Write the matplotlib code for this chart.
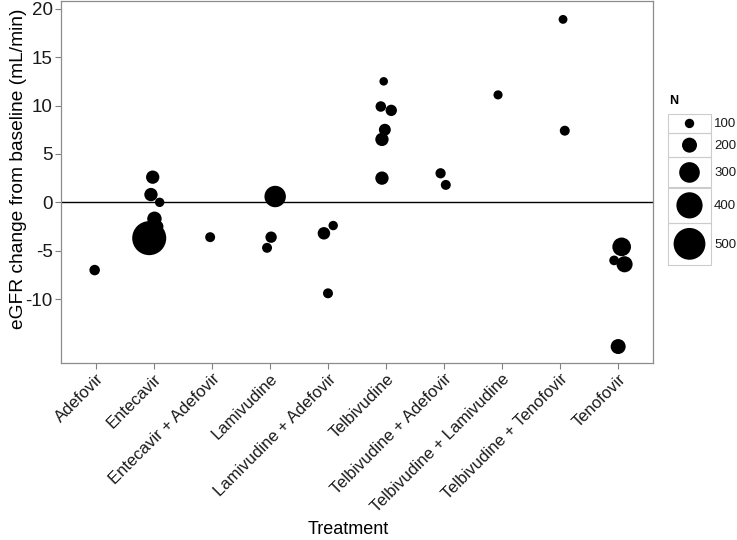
import numpy as np
import matplotlib
matplotlib.use('Agg')
import matplotlib.pyplot as plt
from matplotlib.patches import Rectangle

plt.rcParams['font.family'] = ['Liberation Sans', 'DejaVu Sans']

# categories
treatments = ['Adefovir', 'Entecavir', 'Entecavir + Adefovir', 'Lamivudine',
              'Lamivudine + Adefovir', 'Telbivudine', 'Telbivudine + Adefovir',
              'Telbivudine + Lamivudine', 'Telbivudine + Tenofovir', 'Tenofovir']

# one row per study arm: treatment index, eGFR change, sample size N, jitter
arm_group = [0, 1, 1, 1, 1, 1, 1, 2, 3, 3, 3, 4, 4, 4,
             5, 5, 5, 5, 5, 5, 6, 6, 7, 8, 8, 9, 9, 9, 9]
arm_egfr = [-7.0, 2.6, 0.8, 0.0, -1.7, -2.5, -3.7, -3.6, 0.6, -3.6, -4.7,
            -3.2, -2.4, -9.4, 12.5, 9.9, 9.5, 7.5, 6.5, 2.5, 3.0, 1.8,
            11.1, 18.9, 7.4, -4.6, -6.0, -6.4, -14.9]
arm_n = [120, 170, 170, 100, 190, 150, 540, 110, 315, 135, 110,
         155, 100, 110, 85, 120, 135, 145, 170, 170, 115, 110,
         95, 90, 110, 265, 105, 220, 200]
arm_jitter = [-0.02, -0.02, -0.05, 0.10, 0.01, 0.06, -0.08, -0.03, 0.09, 0.02, -0.05,
              -0.07, 0.09, 0.00, -0.04, -0.09, 0.09, -0.02, -0.07, -0.07, -0.06, 0.03,
              -0.07, 0.05, 0.08, 0.06, -0.07, 0.11, 0.00]

legend_n = [100, 200, 300, 400, 500]
yticks = [-10, -5, 0, 5, 10, 15, 20]

W, H, DPI = 737, 540, 100
PX = 72.0 / DPI


def size_px(n):
    # marker radius in pixels for a given N
    return 1.9 + 2.8 * np.asarray(n) / 100.0


def size_s(n):
    return (2 * size_px(n) * PX) ** 2


fig = plt.figure(figsize=(W / DPI, H / DPI), dpi=DPI)
ax = fig.add_axes([61 / W, 1 - 363 / H, (653 - 61) / W, (363 - 1) / H])

x = np.array(arm_group) + np.array(arm_jitter)
ax.scatter(x, arm_egfr, s=size_s(arm_n), c='black', edgecolors='none', zorder=3)
ax.axhline(0, color='black', lw=1.0, zorder=2)

ax.set_xlim(-0.6, len(treatments) - 0.4)
ax.set_ylim(-16.6, 20.8)
ax.set_yticks(yticks)
ax.set_yticklabels([str(v) for v in yticks], fontsize=13.5, color='#1a1a1a')
ax.set_xticks(range(len(treatments)))
ax.set_xticklabels(treatments, rotation=45, ha='right', rotation_mode='anchor',
                   fontsize=12, color='#1a1a1a')
ax.tick_params(axis='both', length=4, width=0.8, color='#808080', pad=2)
for sp in ax.spines.values():
    sp.set_color('#8c8c8c')
    sp.set_linewidth(0.9)
ax.set_ylabel('eGFR change from baseline (mL/min)', fontsize=13.8)
ax.yaxis.set_label_coords((27 - 61) / 592, (363 - 169) / 362)
ax.set_xlabel('Treatment', fontsize=13)
ax.xaxis.set_label_coords((348 - 61) / 592, (363 - 521) / 362)
ax.xaxis.label.set_va('top')

# size legend with boxed keys
lax = fig.add_axes([0, 0, 1, 1], zorder=5)
lax.set_xlim(0, W)
lax.set_ylim(H, 0)
lax.axis('off')
lax.text(669, 101, 'N', fontsize=9, fontweight='bold', va='center', ha='left')
top = 114
for n in legend_n:
    h = 2 * size_px(n) + 9.5
    lax.add_patch(Rectangle((668, top), 43, h, fill=False, ec='#cccccc', lw=0.8))
    lax.scatter([668 + 21.5], [top + h / 2], s=size_s(n), c='black', edgecolors='none')
    lax.text(714, top + h / 2 + 1, str(n), fontsize=9.5, va='center', ha='left', color='#1a1a1a')
    top += h

fig.savefig('out.png', dpi=DPI)
